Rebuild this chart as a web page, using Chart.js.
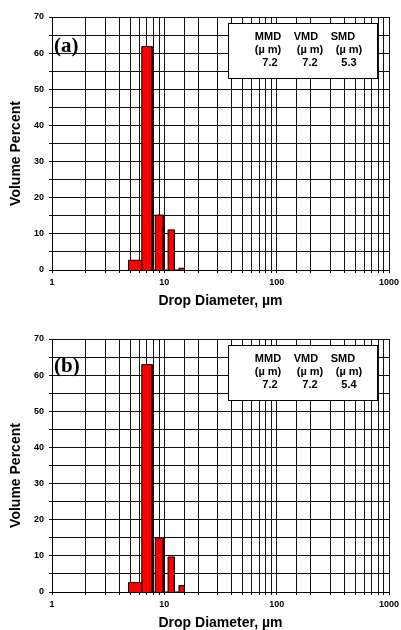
<!DOCTYPE html>
<html>
<head>
<meta charset="utf-8">
<script src="https://cdn.jsdelivr.net/npm/chart.js@4/dist/chart.umd.min.js"></script>
<style>
  body { margin:0; background:#fff; overflow:hidden; }
  .wrap { position:absolute; left:0; width:401px; height:310px; }
</style>
</head>
<body>
<div class="wrap" style="top:0"><canvas id="chartA" width="401" height="310"></canvas></div>
<div class="wrap" style="top:322px"><canvas id="chartB" width="401" height="310"></canvas></div>
<script>
// bins (drop diameter, um) - lower / upper edge
const binLo = [4.8, 6.3, 8.3, 10.8, 13.5];
const binHi = [6.3, 7.8, 9.8, 12.3, 15.1];
// volume percent per bin
const volA = [2.7, 61.8, 15.2, 11.1, 0.5];
const volB = [2.6, 62.9, 14.9, 9.7, 1.8];
// summary diameters
const statNames = ['MMD', 'VMD', 'SMD'];
const statsA = ['7.2', '7.2', '5.3'];
const statsB = ['7.2', '7.2', '5.4'];
const yTicks = [0, 10, 20, 30, 40, 50, 60, 70];

const FONT = '"Liberation Sans", Arial, sans-serif';

// histogram outline : each bin -> rectangle path
function binPath(vals){
  let pts = [];
  vals.forEach((v, i) => {
    pts.push({x: binLo[i], y: 0});
    pts.push({x: binLo[i], y: v});
    pts.push({x: binHi[i], y: v});
    pts.push({x: binHi[i], y: 0});
  });
  return pts;
}

// stats box, panel letter, y title
const boxPlugin = {
  id: 'boxPlugin',
  afterDraw(chart, args, opts){
    const ctx = chart.ctx;
    const a = chart.chartArea;
    ctx.save();
    // y title
    ctx.save();
    ctx.translate(16, (a.top + a.bottom) / 2 + 10);
    ctx.rotate(-Math.PI / 2);
    ctx.font = 'bold 14px ' + FONT;
    ctx.fillStyle = '#000';
    ctx.textAlign = 'center';
    ctx.textBaseline = 'middle';
    ctx.fillText('Volume Percent', 0, 0);
    ctx.restore();
    // panel letter
    ctx.font = 'bold 21px "Liberation Serif", serif';
    ctx.fillStyle = '#000';
    ctx.textAlign = 'left';
    ctx.textBaseline = 'middle';
    ctx.fillText(opts.letter, a.left + 2, a.top + opts.letterY);
    // box
    const bx = a.right - 161, by = a.top + 6, bw = 149, bh = 55;
    ctx.fillStyle = '#fff';
    ctx.fillRect(bx, by, bw, bh);
    ctx.strokeStyle = '#000';
    ctx.lineWidth = 1;
    ctx.strokeRect(bx + 0.5, by + 0.5, bw, bh);
    ctx.fillStyle = '#000';
    ctx.textAlign = 'center';
    ctx.font = 'bold 11px ' + FONT;
    const headX = [bx + 40, bx + 78, bx + 115];
    const unitX = [bx + 40, bx + 82, bx + 121];
    const valX = [bx + 42, bx + 82, bx + 121];
    statNames.forEach((n, i) => {
      ctx.fillText(n, headX[i], by + 14);
      ctx.fillText('(\u00b5 m)', unitX[i], by + 27);
      ctx.fillText(opts.stats[i], valX[i], by + 40);
    });
    ctx.restore();
  }
};

function makeChart(id, vals, letter, letterY, stats){
  const el = document.getElementById(id);
  return new Chart(el, {
    type: 'line',
    data: {
      datasets: [{
        data: binPath(vals),
        borderColor: '#000',
        borderWidth: 1,
        backgroundColor: '#ff0000',
        fill: 'origin',
        pointRadius: 0,
        tension: 0
      }]
    },
    options: {
      responsive: false,
      animation: false,
      layout: { padding: { top: 17, right: 12, left: 0, bottom: 0 } },
      scales: {
        x: {
          type: 'logarithmic',
          min: 1,
          max: 1000,
          afterFit: (s) => { s.height = 40; s.paddingLeft = 0; s.paddingRight = 0; },
          border: { color: '#000', width: 1 },
          grid: { color: '#111', lineWidth: 1, tickLength: 3, tickColor: '#000' },
          ticks: {
            autoSkip: false,
            maxRotation: 0,
            padding: 4,
            color: '#000',
            font: { family: FONT, size: 9, weight: 'bold' },
            callback: (v) => {
              const l = Math.log10(v);
              return Math.abs(l - Math.round(l)) < 1e-6 ? String(v) : '';
            }
          },
          title: {
            display: true,
            text: 'Drop Diameter, \u00b5m',
            color: '#000',
            padding: 0,
            font: { family: FONT, size: 14, weight: 'bold' }
          }
        },
        y: {
          min: 0,
          max: 70,
          afterFit: (s) => { s.width = 52; },
          border: { color: '#000', width: 1 },
          grid: { color: '#111', lineWidth: 1, tickLength: 3 },
          ticks: {
            stepSize: 5,
            padding: 5,
            color: '#000',
            font: { family: FONT, size: 9, weight: 'bold' },
            callback: (v) => yTicks.includes(v) ? String(v) : ''
          }
        }
      },
      plugins: {
        legend: { display: false },
        tooltip: { enabled: false },
        boxPlugin: { letter: letter, letterY: letterY, stats: stats }
      }
    },
    plugins: [boxPlugin]
  });
}

makeChart('chartA', volA, '(a)', 30, statsA);
makeChart('chartB', volB, '(b)', 28, statsB);
</script>
</body>
</html>
